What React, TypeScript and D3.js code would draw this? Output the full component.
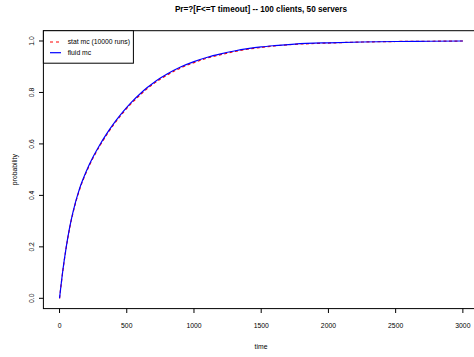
import React from "react";
import * as d3 from "d3";

// Time points (same grid for both series)
const times = [0, 25, 50, 75, 100, 150, 200, 250, 300, 350, 400, 450, 500, 550, 600, 650, 700, 750, 800, 900, 1000, 1100, 1200, 1300, 1400, 1500, 1600, 1750, 2000, 2250, 2500, 2750, 3000];
// Fluid approximation probability
const fluidValues = [0, 0.11, 0.2, 0.275, 0.335, 0.428, 0.495, 0.55, 0.597, 0.639, 0.677, 0.711, 0.742, 0.77, 0.795, 0.818, 0.838, 0.856, 0.872, 0.899, 0.92, 0.937, 0.95, 0.961, 0.97, 0.977, 0.982, 0.988, 0.993, 0.996, 0.998, 0.999, 1.0];
// Statistical model checking estimate (10000 runs)
const statValues = [0, 0.108, 0.198, 0.272, 0.332, 0.424, 0.491, 0.546, 0.593, 0.635, 0.673, 0.707, 0.738, 0.766, 0.791, 0.814, 0.834, 0.852, 0.868, 0.895, 0.916, 0.934, 0.947, 0.959, 0.968, 0.975, 0.981, 0.987, 0.992, 0.996, 0.998, 0.999, 1.0];

const xTicks = [0, 500, 1000, 1500, 2000, 2500, 3000];
const yTicks = [0, 0.2, 0.4, 0.6, 0.8, 1.0];
const legendLabels = ["stat mc (10000 runs)", "fluid mc"];
const titleText = "Pr=?[F<=T timeout] -- 100 clients, 50 servers";

const W = 474;
const H = 357;
const font = "'Liberation Sans', Arial, Helvetica, sans-serif";

export default function App() {
  // R-style 4% range extension around the data range
  const x = d3.scaleLinear().domain([-120, 3120]).range([43.4, 479]);
  const y = d3.scaleLinear().domain([-0.04, 1.04]).range([308.6, 30.7]);

  const line = d3
    .line<number>()
    .x((_, i) => x(times[i]))
    .y((v) => y(v))
    .curve(d3.curveMonotoneX);

  const fs = 6.8;
  const midY = (30.7 + 308.6) / 2;

  return (
    <svg
      width={W}
      height={H}
      style={{ position: "absolute", left: 0, top: 0, background: "#fff" }}
      fontFamily={font}
    >
      <rect x={0} y={0} width={W} height={H} fill="#fff" />
      <text x={261} y={12} textAnchor="middle" fontSize={8.2} fontWeight="bold" fill="#000">
        {titleText}
      </text>

      {/* series */}
      <path d={line(statValues) || ""} fill="none" stroke="#ff0000" strokeWidth={1.2} strokeDasharray="3,2.5" />
      <path d={line(fluidValues) || ""} fill="none" stroke="#0000ff" strokeWidth={1.2} />

      {/* plot box */}
      <rect x={43.4} y={30.7} width={479 - 43.4} height={308.6 - 30.7} fill="none" stroke="#000" strokeWidth={1} />

      {/* x axis */}
      {xTicks.map((t) => (
        <g key={"x" + t}>
          <line x1={x(t)} x2={x(t)} y1={308.6} y2={313} stroke="#000" strokeWidth={1} />
          <text x={x(t)} y={328} textAnchor="middle" fontSize={fs} fill="#000">
            {t}
          </text>
        </g>
      ))}
      <text x={261} y={349} textAnchor="middle" fontSize={fs} fill="#000">
        time
      </text>

      {/* y axis */}
      {yTicks.map((t) => (
        <g key={"y" + t}>
          <line x1={39} x2={43.4} y1={y(t)} y2={y(t)} stroke="#000" strokeWidth={1} />
          <text
            transform={`translate(34,${y(t)}) rotate(-90)`}
            textAnchor="middle"
            fontSize={fs}
            fill="#000"
          >
            {t.toFixed(1)}
          </text>
        </g>
      ))}
      <text
        transform={`translate(17,${midY}) rotate(-90)`}
        textAnchor="middle"
        fontSize={fs}
        fill="#000"
      >
        probability
      </text>

      {/* legend */}
      <rect x={43.4} y={30.7} width={90} height={32.5} fill="#fff" stroke="#000" strokeWidth={1} />
      <line x1={50} x2={61} y1={42} y2={42} stroke="#ff0000" strokeWidth={1} strokeDasharray="3,3" />
      <line x1={50} x2={61} y1={52.7} y2={52.7} stroke="#0000ff" strokeWidth={1.2} />
      <text x={67.7} y={44.4} fontSize={fs} fill="#000">
        {legendLabels[0]}
      </text>
      <text x={67.7} y={55.1} fontSize={fs} fill="#000">
        {legendLabels[1]}
      </text>
    </svg>
  );
}
